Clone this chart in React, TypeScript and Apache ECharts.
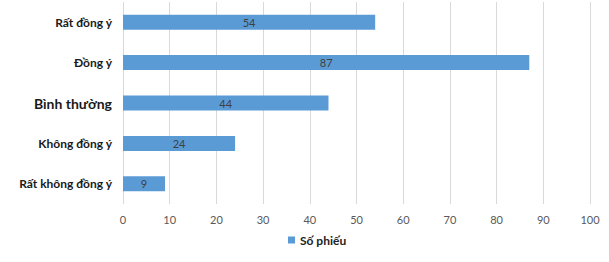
import React, { useEffect, useRef } from "react";
import * as echarts from "echarts";

const categories = ["Rất không đồng ý", "Không đồng ý", "Bình thường", "Đồng ý", "Rất đồng ý"];
const votes = [9, 24, 44, 87, 54];
const seriesName = "Số phiếu";

export default function App() {
  const ref = useRef<HTMLDivElement>(null);
  useEffect(() => {
    const chart = echarts.init(ref.current!, null, { renderer: "svg" });
    chart.setOption({
      animation: false,
      backgroundColor: "#ffffff",
      textStyle: { fontFamily: "Lato" },
      grid: { left: 123, right: 19, top: 2, bottom: 58, containLabel: false },
      legend: {
        data: [seriesName],
        bottom: 11,
        left: 283,
        itemWidth: 7,
        itemHeight: 7,
        itemGap: 4,
        textStyle: { fontFamily: "Lato", fontWeight: "bold", fontSize: 12, color: "#222" },
        icon: "rect",
      },
      xAxis: {
        type: "value",
        min: 0,
        max: 100,
        interval: 10,
        axisLine: { show: false },
        axisTick: { show: false },
        splitLine: { show: true, lineStyle: { color: "#d9d9d9", width: 1 } },
        axisLabel: { color: "#595959", fontSize: 11, fontFamily: "Lato", margin: 10 },
      },
      yAxis: {
        type: "category",
        data: categories,
        axisLine: { show: false },
        axisTick: { show: false },
        axisLabel: {
          margin: 11,
          fontFamily: "Lato",
          fontWeight: "bold",
          fontSize: 12,
          color: "#1a1a1a",
          formatter: (v: string) => (v === "Bình thường" ? "{big|" + v + "}" : v),
          rich: { big: { fontSize: 14, fontWeight: "bold", color: "#1a1a1a", fontFamily: "Lato" } },
        },
      },
      series: [
        {
          name: seriesName,
          type: "bar",
          data: votes,
          barWidth: 15,
          itemStyle: { color: "#5b9bd5" },
          label: { show: true, position: "inside", color: "#404040", fontSize: 11, fontFamily: "Lato" },
        },
      ],
    });
    return () => chart.dispose();
  }, []);
  return <div ref={ref} style={{ position: "fixed", left: 0, top: 0, width: 609, height: 262 }} />;
}
